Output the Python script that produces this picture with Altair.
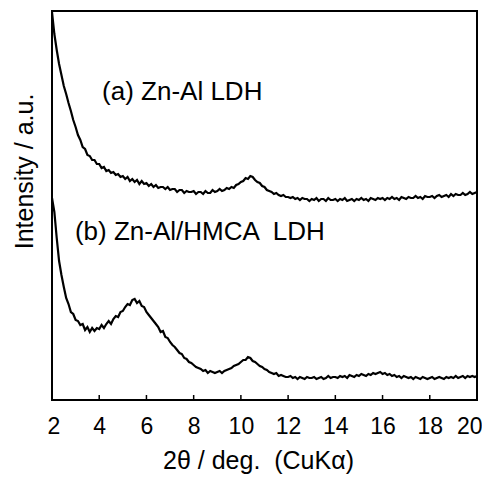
import altair as alt
import pandas as pd

# 2theta grid (deg), one value every 0.1 deg from 2.0 to 20.0
two_theta = [round(2.0 + 0.1 * i, 1) for i in range(181)]

# (a) Zn-Al LDH  (arbitrary intensity units)
intensity_a = [
    388, 366, 350, 336, 325, 314, 306, 297, 289, 280,
    273, 265, 260, 253, 251, 245, 244, 240, 240, 236,
    236, 232, 233, 229, 230, 227, 228, 225, 226, 223,
    224, 221, 223, 219, 221, 218, 220, 216, 219, 216,
    217, 214, 216, 213, 215, 212, 213, 213, 211, 213,
    210, 211, 211, 208, 210, 210, 207, 209, 208, 208,
    209, 206, 208, 208, 206, 209, 207, 207, 210, 208,
    209, 211, 209, 210, 212, 211, 213, 212, 215, 216,
    218, 219, 222, 221, 224, 223, 220, 218, 217, 214,
    213, 210, 209, 208, 206, 207, 205, 204, 205, 203,
    203, 202, 203, 201, 202, 200, 202, 201, 201, 199,
    201, 200, 202, 199, 201, 201, 199, 202, 200, 200,
    201, 199, 201, 200, 202, 199, 200, 201, 199, 201,
    200, 202, 200, 201, 199, 202, 201, 200, 202, 201,
    202, 200, 202, 201, 203, 201, 202, 200, 203, 202,
    201, 203, 202, 202, 204, 202, 203, 201, 204, 203,
    203, 204, 202, 204, 205, 203, 204, 205, 203, 206,
    204, 206, 205, 205, 207, 205, 206, 208, 206, 207,
    208,
]

# (b) Zn-Al/HMCA LDH
intensity_b = [
    202, 188, 162, 139, 125, 113, 102, 96, 88, 86,
    80, 79, 75, 76, 70, 73, 68, 72, 69, 72,
    71, 75, 72, 76, 79, 76, 81, 84, 83, 88,
    89, 93, 96, 95, 100, 101, 97, 99, 94, 93,
    88, 85, 82, 79, 76, 73, 68, 69, 63, 62,
    58, 55, 53, 50, 47, 46, 42, 41, 38, 37,
    35, 33, 32, 31, 29, 30, 27, 29, 28, 27,
    28, 29, 27, 29, 30, 31, 32, 34, 35, 36,
    38, 40, 40, 43, 42, 39, 38, 36, 34, 33,
    31, 30, 28, 27, 26, 27, 24, 25, 24, 23,
    23, 24, 22, 23, 21, 23, 22, 21, 23, 22,
    22, 23, 21, 22, 23, 21, 22, 24, 22, 23,
    23, 22, 24, 23, 24, 22, 25, 24, 23, 25,
    24, 26, 25, 24, 26, 25, 27, 26, 27, 28,
    26, 27, 25, 26, 24, 25, 23, 24, 22, 24,
    23, 22, 23, 21, 23, 22, 21, 23, 22, 21,
    22, 23, 21, 22, 23, 22, 21, 23, 22, 23,
    22, 24, 22, 23, 24, 22, 24, 23, 24, 23,
    24,
]

x_ticks = [2, 4, 6, 8, 10, 12, 14, 16, 18, 20]

NBSP = "\u00a0"
labels = ["(a) Zn-Al LDH", "(b) Zn-Al/HMCA " + NBSP + "LDH"]
label_x = [4.12, 2.97]
label_y = [300, 160]

df = pd.concat([
    pd.DataFrame({"t": two_theta, "I": intensity_a, "s": "a"}),
    pd.DataFrame({"t": two_theta, "I": intensity_b, "s": "b"}),
])
ticks_df = pd.DataFrame({"t": x_ticks})
lab_df = pd.DataFrame({"text": labels, "t": label_x, "I": label_y})

FONT = "Liberation Sans"

xscale = alt.Scale(domain=[2, 20], nice=False, zero=False)
yscale = alt.Scale(domain=[0, 389], nice=False, zero=False)

lines = alt.Chart(df).mark_line(color="black", strokeWidth=2.2, clip=True).encode(
    x=alt.X("t:Q", scale=xscale,
            axis=alt.Axis(values=x_ticks, ticks=False, domain=False, grid=False,
                          labelFont=FONT, labelFontSize=23, labelColor="black",
                          labelPadding=15, labelFlush=True, labelFlushOffset=5,
                          title="2θ / deg. " + NBSP + "(CuKα)", titleFont=FONT,
                          titleFontSize=25, titleFontWeight="normal",
                          titleColor="black", titleBaseline="alphabetic",
                          titleY=68, titleX=206, titleAlign="center")),
    y=alt.Y("I:Q", scale=yscale,
            axis=alt.Axis(ticks=False, labels=False, domain=False, grid=False,
                          title="Intensity / a.u.", titleFont=FONT,
                          titleFontSize=25, titleFontWeight="normal",
                          titleColor="black", titleAngle=270,
                          titleBaseline="alphabetic", titleX=-20, titleY=160,
                          titleAlign="center")),
    detail="s:N",
)

tick_marks = alt.Chart(ticks_df).mark_rule(color="black", strokeWidth=1.5).encode(
    x=alt.X("t:Q", scale=xscale),
    y=alt.value(389),
    y2=alt.value(384),
)

texts = alt.Chart(lab_df).mark_text(
    font=FONT, fontSize=26, color="black", align="left", baseline="alphabetic"
).encode(
    x=alt.X("t:Q", scale=xscale),
    y=alt.Y("I:Q", scale=yscale),
    text="text:N",
)

chart = alt.layer(lines, tick_marks, texts).properties(
    width=425,
    height=389,
    autosize=alt.AutoSizeParams(type="none"),
    padding={"left": 44, "top": 3, "right": 5, "bottom": 74},
).configure(
    background="white",
    view=alt.ViewConfig(stroke="black", strokeWidth=2),
)

chart.save("out.html", embed_options={"renderer": "svg", "actions": False})
